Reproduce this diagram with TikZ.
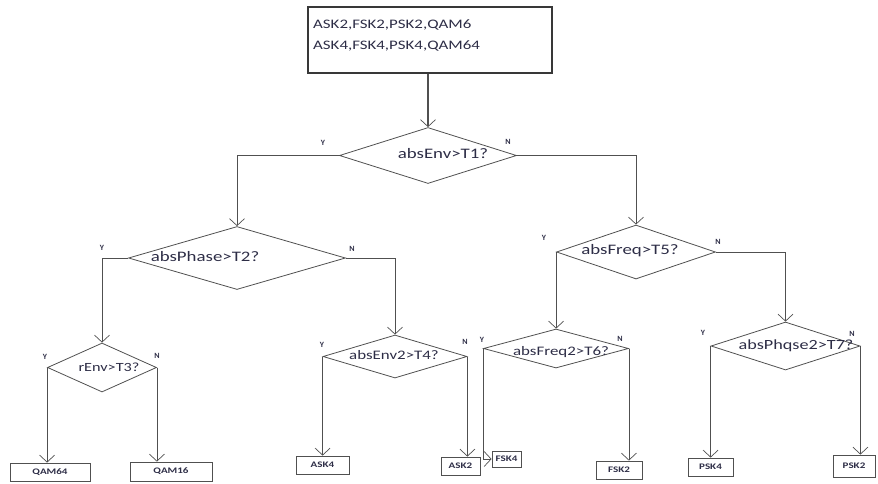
\documentclass[tikz,border=0pt]{standalone}
\usepackage{fontspec}
\setmainfont{Carlito}
\usepackage{graphicx}
\usetikzlibrary{shapes.geometric,arrows.meta}
\definecolor{ink}{RGB}{45,45,70}
\definecolor{edge}{RGB}{80,80,80}
% horizontally widened lettering
\newcommand{\wide}[1]{\scalebox{1.3}[1]{#1}}
\begin{document}
\begin{tikzpicture}[x=1pt,y=-1pt,
  decision/.style={draw=edge, line width=0.8pt, shape=diamond, inner sep=0pt},
  startbox/.style={draw=edge!70!black, line width=1.1pt, rectangle, inner sep=0pt},
  leaf/.style={draw=edge, line width=0.8pt, rectangle, inner sep=0pt, text=ink,
    font=\bfseries\fontsize{8.5}{9}\selectfont},
  yn/.style={text=ink, font=\bfseries\fontsize{8}{9}\selectfont, inner sep=0pt},
  qtext/.style={text=ink, inner sep=0pt},
  flow/.style={draw=edge, line width=0.8pt,
    -{Straight Barb[length=7pt,width=15pt,line width=0.7pt]}}
]
\useasboundingbox (0,0) rectangle (878,483);

% start box
\node[startbox, minimum width=244pt, minimum height=66pt] (top) at (430,40) {};
\node[qtext, anchor=north west, align=left, font=\fontsize{13}{21}\selectfont] (toptext) at (313,20)
  {\wide{ASK2,FSK2,PSK2,QAM6}\\\wide{ASK4,FSK4,PSK4,QAM64}};

% decisions
\node[decision, minimum width=177pt, minimum height=56pt] (d1) at (428,155.5) {};
\node[decision, minimum width=217pt, minimum height=63pt] (d2) at (237,258) {};
\node[decision, minimum width=109pt, minimum height=49pt] (d3) at (102,367.5) {};
\node[decision, minimum width=144pt, minimum height=43pt] (d4) at (395,356.5) {};
\node[decision, minimum width=159pt, minimum height=54pt] (d5) at (636,252) {};
\node[decision, minimum width=145pt, minimum height=39pt] (d6) at (556,348.5) {};
\node[decision, minimum width=149pt, minimum height=48pt] (d7) at (785.5,346) {};

% decision texts
\node[qtext, font=\fontsize{14.5}{16}\selectfont] (t1) at (443,154) {\wide{absEnv>T1?}};
\node[qtext, font=\fontsize{14.5}{16}\selectfont] (t2) at (205,257) {\wide{absPhase>T2?}};
\node[qtext, font=\fontsize{12.5}{14}\selectfont] (t3) at (109,367) {\wide{rEnv>T3?}};
\node[qtext, font=\fontsize{13}{15}\selectfont] (t4) at (394,355) {\wide{absEnv2>T4?}};
\node[qtext, font=\fontsize{14.5}{16}\selectfont] (t5) at (630,251) {\wide{absFreq>T5?}};
\node[qtext, font=\fontsize{13}{15}\selectfont] (t6) at (561,352) {\wide{absFreq2>T6?}};
\node[qtext, font=\fontsize{14}{16}\selectfont] (t7) at (796,346) {\wide{absPhqse2>T7?}};

% leaves
\node[leaf, minimum width=80pt, minimum height=18pt] (q64) at (50,472) {\wide{QAM64}};
\node[leaf, minimum width=82pt, minimum height=19pt] (q16) at (171,471.5) {\wide{QAM16}};
\node[leaf, minimum width=53pt, minimum height=18pt] (a4) at (322.5,465) {\wide{ASK4}};
\node[leaf, minimum width=39pt, minimum height=18pt] (a2) at (460.5,466) {\wide{ASK2}};
\node[leaf, minimum width=29pt, minimum height=16pt] (f4) at (506.5,459) {\wide{FSK4}};
\node[leaf, minimum width=46pt, minimum height=18pt] (f2) at (619,470) {\wide{FSK2}};
\node[leaf, minimum width=45pt, minimum height=18pt] (p4) at (710.5,467) {\wide{PSK4}};
\node[leaf, minimum width=42pt, minimum height=22pt] (p2) at (854,466) {\wide{PSK2}};

% connectors
\draw[flow, line width=1.6pt] (d1.north |- top.south) -- (d1.north);
\draw[flow] (d1.west) -| (d2.north);
\draw[flow] (d1.east) -| (d5.north);
\draw[flow] (d2.west) -| (d3.north);
\draw[flow] (d2.east) -| (d4.north);
\draw[flow] (d3.west) -- (d3.west |- q64.north);
\draw[flow] (d3.east) -- (d3.east |- q16.north);
\draw[flow] (d4.west) -- (d4.west |- a4.north);
\draw[flow] (d4.east) -- (d4.east |- a2.north);
\draw[flow] (d5.west) -- (d5.west |- d6.north);
\draw[flow] (d5.east) -| (d7.north);
\draw[flow] (d6.west) |- (f4.west);
\draw[flow] (d6.east) -- (d6.east |- f2.north);
\draw[flow] (d7.west) -- (d7.west |- p4.north);
\draw[flow] (d7.east) -- (d7.east |- p2.north);

% branch labels
\node[yn] (y1) at (323,143) {Y};
\node[yn] (n1) at (508,142) {N};
\node[yn] (y2) at (102,248) {Y};
\node[yn] (n2) at (352,249) {N};
\node[yn] (y3) at (45,357) {Y};
\node[yn] (n3) at (157,356) {N};
\node[yn] (y4) at (322,345) {Y};
\node[yn] (n4) at (465,342) {N};
\node[yn] (y5) at (544,238) {Y};
\node[yn] (n5) at (718,242) {N};
\node[yn] (y6) at (482,340) {Y};
\node[yn] (n6) at (620,339) {N};
\node[yn] (y7) at (703,333) {Y};
\node[yn] (n7) at (852,334) {N};
\end{tikzpicture}
\end{document}
